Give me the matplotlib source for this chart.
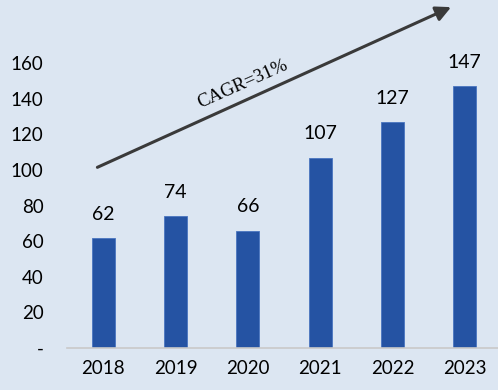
import numpy as np
import matplotlib
matplotlib.use("Agg")
from matplotlib import pyplot as plt
from matplotlib.ticker import FuncFormatter

years = ["2018", "2019", "2020", "2021", "2022", "2023"]
values = [62, 74, 66, 107, 127, 147]
yticks = [0, 20, 40, 60, 80, 100, 120, 140, 160]
cagr_label = "CAGR=31%"

bg = "#dce6f2"
bar_color = "#2553a3"

plt.rcParams['font.family'] = ['Lato', 'DejaVu Sans']

fig = plt.figure(figsize=(4.98, 3.90), dpi=100, facecolor=bg)
# axes box in figure fractions (left edge at x=67px, baseline at y=348px)
ax = fig.add_axes([67 / 498, (390 - 348) / 390, 434 / 498, 348 / 390])
ax.set_facecolor(bg)

x = np.arange(len(years))
bars = ax.bar(x, values, width=0.32, color=bar_color, edgecolor="#4a75c0", linewidth=0.6)

ax.set_xlim(-0.5, len(years) - 0.5)
ax.set_ylim(0, 348 / 1.78)
ax.set_yticks(yticks)
ax.yaxis.set_major_formatter(FuncFormatter(lambda v, p: "-" if v == 0 else f"{v:.0f}"))
ax.set_xticks(x)
ax.set_xticklabels(years)
ax.tick_params(axis='both', length=0, labelsize=13.5, colors="black")
ax.tick_params(axis='y', pad=17)
ax.tick_params(axis='x', pad=9)

for s in ["top", "right", "left"]:
    ax.spines[s].set_visible(False)
ax.spines["bottom"].set_color("#c9c9c9")
ax.spines["bottom"].set_linewidth(1.2)

# value labels above bars
for xi, v in zip(x, values):
    ax.annotate(str(v), (xi, v), xytext=(0, 17), textcoords="offset points",
                ha="center", va="center", fontsize=14)

# growth arrow with CAGR text
ax.annotate("", xy=(4.81, 191.5), xytext=(-0.08, 101.5),
            arrowprops=dict(arrowstyle="-|>,head_length=0.9,head_width=0.45",
                            color="#3a3a3a", lw=2.2, shrinkA=0, shrinkB=0),
            annotation_clip=False)
ax.text(1.93, 148.5, cagr_label, rotation=24, ha="center", va="center",
        fontsize=13.5, family=["Liberation Serif", "DejaVu Serif"], color="black")

fig.savefig("out.png", dpi=100, facecolor=bg)
